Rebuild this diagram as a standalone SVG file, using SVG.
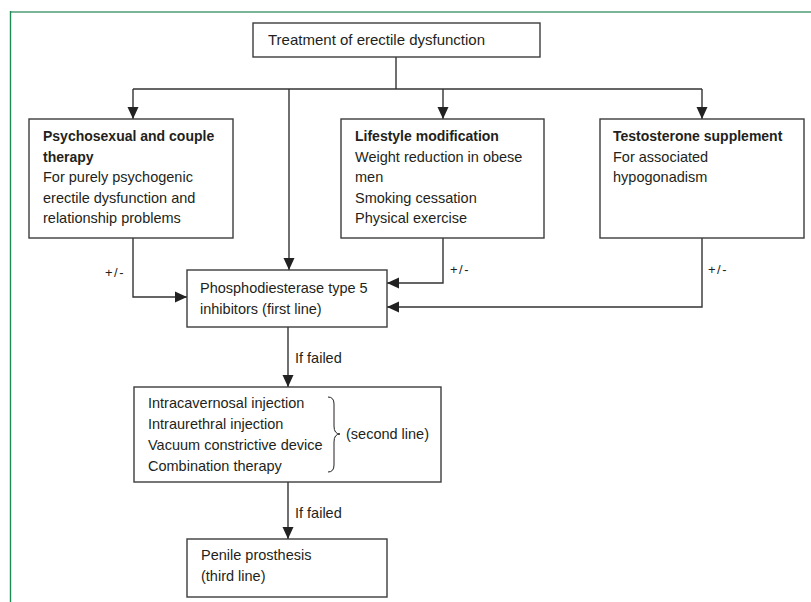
<svg xmlns="http://www.w3.org/2000/svg" width="811" height="602" viewBox="0 0 811 602">
<style>
  .box { fill: #ffffff; stroke: #3c3c3c; stroke-width: 1.4; }
  .t { font-family: "Liberation Sans", Arial, sans-serif; font-size: 14.5px; fill: #231f20; }
  .b { font-weight: bold; font-size: 14px; }
  .s { font-size: 13px; letter-spacing: 1.5px; }
  .c { fill: none; stroke: #333333; stroke-width: 1.4; }
</style>
<defs>
  <marker id="ah" markerUnits="userSpaceOnUse" markerWidth="12" markerHeight="12" viewBox="0 0 12 12" refX="12" refY="6" orient="auto">
    <path d="M0,0.5 L12,6 L0,11.5 Z" fill="#222222"/>
  </marker>
</defs>
<rect x="0" y="0" width="811" height="602" fill="#ffffff"/>
<g id="frame">
  <line x1="10" y1="12" x2="811" y2="12" stroke="#7ab59a" stroke-width="2"/>
  <line x1="10.5" y1="11" x2="10.5" y2="602" stroke="#1e8a55" stroke-width="1.4"/>
</g>
<g id="connectors">
  <path class="c" d="M396,57 V89"/>
  <path class="c" d="M133,89 H702"/>
  <path class="c" d="M133,89 V119" marker-end="url(#ah)"/>
  <path class="c" d="M289,89 V270" marker-end="url(#ah)"/>
  <path class="c" d="M443,89 V119" marker-end="url(#ah)"/>
  <path class="c" d="M702,89 V119" marker-end="url(#ah)"/>
  <path class="c" d="M133,238 V297 H187" marker-end="url(#ah)"/>
  <path class="c" d="M443,238 V283 H387" marker-end="url(#ah)"/>
  <path class="c" d="M702,238 V307 H387" marker-end="url(#ah)"/>
  <path class="c" d="M288,327 V387" marker-end="url(#ah)"/>
  <path class="c" d="M288,482 V539" marker-end="url(#ah)"/>
  <text class="t s" x="105" y="277">+/-</text>
  <text class="t s" x="450" y="274">+/-</text>
  <text class="t s" x="708" y="274">+/-</text>
  <text class="t" x="295" y="363">If failed</text>
  <text class="t" x="295" y="518">If failed</text>
</g>
<g id="n-top">
  <rect class="box" x="253" y="23" width="287" height="34"/>
  <text class="t" x="268" y="45" style="font-size:15px">Treatment of erectile dysfunction</text>
</g>
<g id="n-psycho">
  <rect class="box" x="29" y="119" width="204" height="119"/>
  <text class="t b" x="43" y="141">Psychosexual and couple</text>
  <text class="t b" x="43" y="161.5">therapy</text>
  <text class="t" x="43" y="182">For purely psychogenic</text>
  <text class="t" x="43" y="202.5">erectile dysfunction and</text>
  <text class="t" x="43" y="223">relationship problems</text>
</g>
<g id="n-lifestyle">
  <rect class="box" x="341" y="119" width="203" height="119"/>
  <text class="t b" x="355" y="141">Lifestyle modification</text>
  <text class="t" x="355" y="161.5">Weight reduction in obese</text>
  <text class="t" x="355" y="182">men</text>
  <text class="t" x="355" y="202.5">Smoking cessation</text>
  <text class="t" x="355" y="223">Physical exercise</text>
</g>
<g id="n-testo">
  <rect class="box" x="600" y="119" width="204" height="119"/>
  <text class="t b" x="613" y="141">Testosterone supplement</text>
  <text class="t" x="613" y="161.5">For associated</text>
  <text class="t" x="613" y="182">hypogonadism</text>
</g>
<g id="n-pde5">
  <rect class="box" x="187" y="270" width="200" height="57"/>
  <text class="t" x="200" y="293">Phosphodiesterase type 5</text>
  <text class="t" x="200" y="313.5">inhibitors (first line)</text>
</g>
<g id="n-second">
  <rect class="box" x="134" y="387" width="307" height="95"/>
  <text class="t" x="148" y="408">Intracavernosal injection</text>
  <text class="t" x="148" y="429">Intraurethral injection</text>
  <text class="t" x="148" y="450">Vacuum constrictive device</text>
  <text class="t" x="148" y="471">Combination therapy</text>
  <path d="M328,397 Q334,397 334,404 L334,426 Q334,434 340,434 Q334,434 334,442 L334,465 Q334,472 328,472" fill="none" stroke="#231f20" stroke-width="1"/>
  <text class="t" x="346" y="438.5">(second line)</text>
</g>
<g id="n-third">
  <rect class="box" x="187" y="539" width="200" height="58"/>
  <text class="t" x="201" y="560">Penile prosthesis</text>
  <text class="t" x="201" y="580.5">(third line)</text>
</g>
</svg>
